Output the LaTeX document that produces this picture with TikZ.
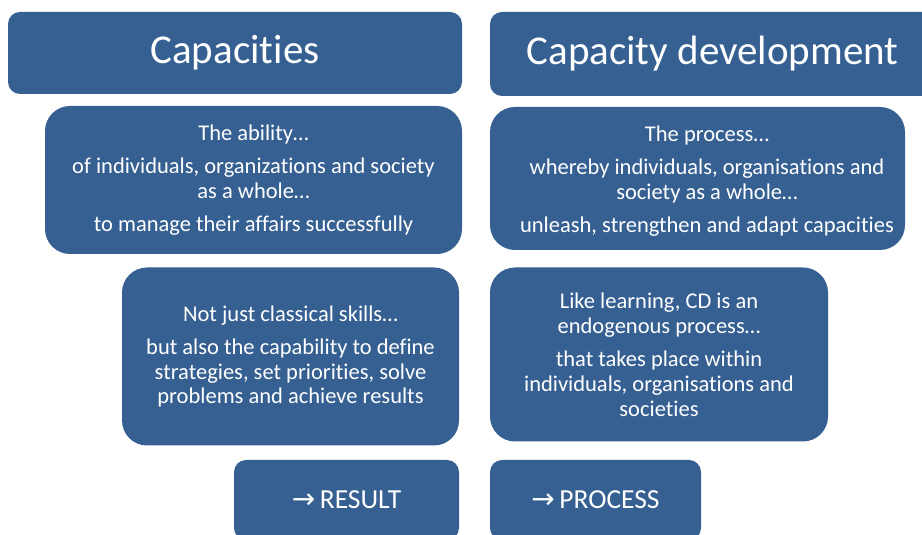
\documentclass[tikz,border=0pt]{standalone}
\usepackage{fontspec}
\setmainfont{Carlito}[RawFeature={-liga;-clig;-dlig}]
\newfontfamily\arrowfont{DejaVu Sans}
\definecolor{boxblue}{RGB}{54,96,146}
\tikzset{
  bluebox/.style={fill=boxblue, draw=none, text=white, align=center, inner sep=0pt},
  titlebox/.style={bluebox, rounded corners=12pt, font=\fontsize{41}{48}\selectfont},
  bodytext/.style={text=white, align=center, inner sep=0pt, font=\fontsize{22.5}{24.8}\selectfont},
  bodybox/.style={bluebox, rounded corners=25pt, font=\fontsize{22.5}{24.8}\selectfont},
  tagbox/.style={bluebox, rounded corners=12pt, font=\fontsize{27.5}{32}\selectfont},
}
\begin{document}
\begin{tikzpicture}[x=1pt,y=1pt]
\useasboundingbox (0,0) rectangle (922,535);
% titles
\node[titlebox, minimum width=454, minimum height=82] (cap) at (235,482) {Capacities};
\node[titlebox, minimum width=445, minimum height=84] (cd) at (712.5,481) {Capacity development};
% definitions
\node[bodybox, minimum width=417, minimum height=148] (abil) at (253.5,355)
  {The ability…\\[8.5pt]of individuals, organizations and society\\as a whole…\\[8.5pt]to manage their affairs successfully};
\node[bodybox, minimum width=415, minimum height=143] (proc) at (697.5,356.5) {};
\node[bodytext] (proct) at (707,354)
  {The process…\\[8.5pt]whereby individuals, organisations and\\society as a whole…\\[8.5pt]unleash, strengthen and adapt capacities};
% explanations
\node[bodybox, minimum width=337, minimum height=178] (skills) at (290.5,178.5)
  {Not just classical skills…\\[8.5pt]but also the capability to define\\strategies, set priorities, solve\\problems and achieve results};
\node[bodybox, minimum width=338, minimum height=174] (learn) at (659,180.5)
  {Like learning, CD is an\\endogenous process…\\[8.5pt]that takes place within\\individuals, organisations and\\societies};
% tags
\node[tagbox, minimum width=225, minimum height=80] (res) at (346.5,35) {{\arrowfont\fontsize{28}{32}\selectfont →}\,RESULT};
\node[tagbox, minimum width=211, minimum height=80] (pro) at (595.5,35) {{\arrowfont\fontsize{28}{32}\selectfont →}\,PROCESS};
\end{tikzpicture}
\end{document}
